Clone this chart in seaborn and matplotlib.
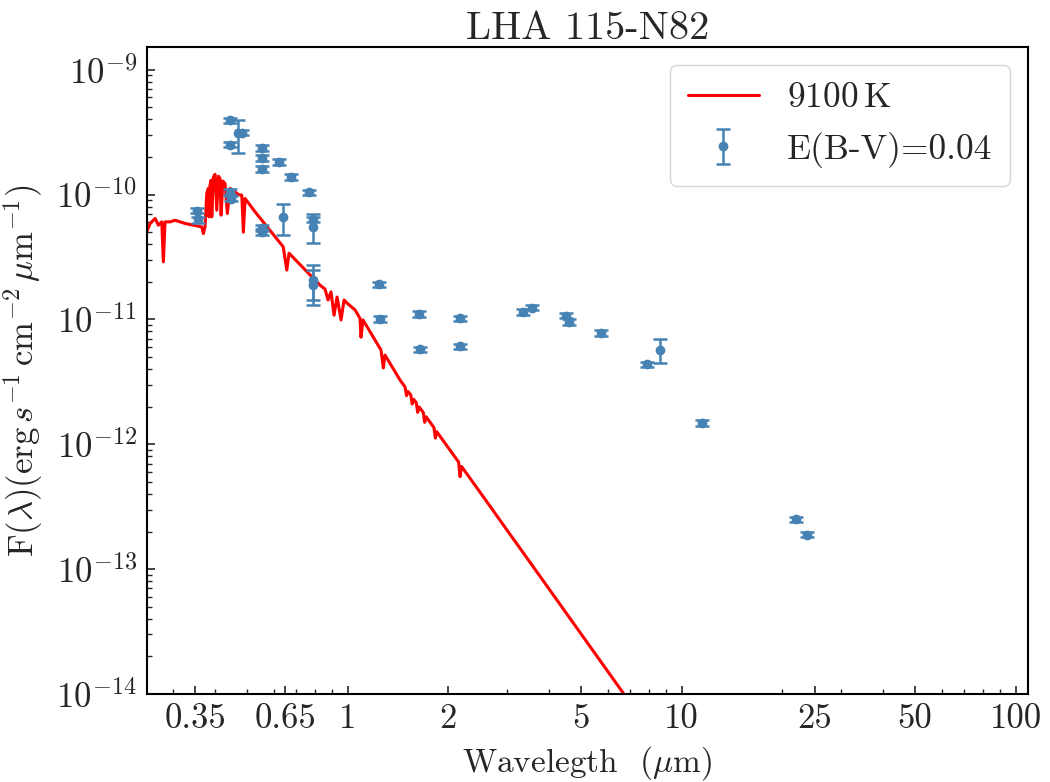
import numpy as np
import pandas as pd
import matplotlib
matplotlib.use("Agg")
import matplotlib.pyplot as plt
import seaborn as sns
from matplotlib.ticker import FixedLocator, FixedFormatter, LogLocator, NullFormatter

# ---------------- data ----------------
# model spectrum (9100 K)
model_wave = [0.250, 0.256, 0.265, 0.271, 0.2774, 0.2805, 0.2837, 0.2938, 0.304, 0.326,
              0.3655, 0.3696, 0.3738, 0.3783, 0.3825, 0.3843, 0.3870, 0.3897, 0.3916, 0.3960,
              0.4006, 0.4054, 0.4100, 0.4147, 0.4176, 0.4230, 0.4292, 0.4360, 0.4442, 0.4599,
              0.4700, 0.4817, 0.4870, 0.4927, 0.528, 0.641, 0.657, 0.667, 0.826, 0.855,
              0.873, 0.891, 0.910, 0.929, 0.955, 0.975, 0.995, 1.052, 1.088, 1.096,
              1.111, 1.258, 1.278, 1.293, 1.434,
              1.485, 1.500, 1.515, 1.545, 1.560, 1.575, 1.604, 1.620, 1.636,
              1.683, 1.700, 1.717, 1.812, 1.830, 1.848, 2.148, 2.170, 2.192,
              2.400, 2.607, 3.000, 3.280, 4.040, 5.070, 6.690, 7.000]
model_flux = [5.02e-11, 5.86e-11, 6.43e-11, 5.68e-11, 6.04e-11, 2.89e-11, 6.04e-11, 6.04e-11, 6.22e-11, 5.86e-11,
              5.50e-11, 4.87e-11, 5.50e-11, 1.02e-10, 1.12e-10, 6.62e-11, 1.20e-10, 1.30e-10, 6.62e-11, 1.38e-10,
              1.45e-10, 7.49e-11, 1.40e-10, 1.34e-10, 6.83e-11, 1.28e-10, 1.22e-10, 7.05e-11, 1.12e-10, 1.05e-10,
              1.00e-10, 9.87e-11, 4.99e-11, 9.29e-11, 7.26e-11, 3.81e-11, 2.48e-11, 3.39e-11, 1.88e-11, 1.75e-11,
              1.43e-11, 1.66e-11, 1.08e-11, 1.51e-11, 9.9e-12, 1.43e-11, 1.35e-11, 1.19e-11, 1.02e-11, 7.2e-12,
              9.9e-12, 5.68e-12, 4.08e-12, 5.18e-12, 3.27e-12,
              2.87e-12, 2.45e-12, 2.65e-12, 2.48e-12, 2.10e-12, 2.29e-12, 2.15e-12, 1.80e-12, 1.99e-12,
              1.80e-12, 1.50e-12, 1.66e-12, 1.36e-12, 1.12e-12, 1.26e-12, 7.20e-13, 5.50e-13, 6.64e-13,
              4.74e-13, 3.48e-13, 2.05e-13, 1.47e-13, 6.73e-14, 2.87e-14, 1.014e-14, 8.6e-15]

# photometry: wavelength, flux, lower / upper error
phot_wave = [0.354, 0.356, 0.444, 0.444, 0.4705, 0.4816, 0.5549, 0.5549, 0.5549, 0.6241,
             0.6766, 0.7658, 0.444, 0.4463, 0.5549, 0.5549, 0.6415, 0.785, 0.785, 0.7889,
             0.7889, 1.243, 1.249, 1.638, 1.646, 2.169, 2.169, 3.342, 3.57, 4.50,
             4.59, 5.72, 7.86, 8.61, 11.53, 21.99, 23.67]
phot_flux = [7.35e-11, 6.34e-11, 3.93e-10, 2.51e-10, 3.08e-10, 3.13e-10, 2.36e-10, 1.96e-10, 1.60e-10, 1.82e-10,
             1.38e-10, 1.04e-10, 1.05e-10, 9.29e-11, 5.41e-11, 5.02e-11, 6.55e-11, 6.31e-11, 5.50e-11, 2.06e-11,
             1.88e-11, 1.91e-11, 1.005e-11, 1.11e-11, 5.75e-12, 1.02e-11, 6.11e-12, 1.14e-11, 1.24e-11, 1.07e-11,
             9.55e-12, 7.77e-12, 4.37e-12, 5.68e-12, 1.48e-12, 2.51e-13, 1.89e-13]
phot_err_lo = [0.25e-11, 0.41e-11, 0.2e-10, 0.13e-10, 0.95e-10, 0.16e-10, 0.12e-10, 0.10e-10, 0.08e-10, 0.09e-10,
               0.07e-10, 0.05e-10, 0.05e-10, 0.46e-11, 0.27e-11, 0.25e-11, 1.83e-11, 0.32e-11, 1.44e-11, 0.63e-11,
               0.58e-11, 0.1e-11, 0.05e-11, 0.06e-11, 0.29e-12, 0.5e-12, 0.3e-12, 0.6e-12, 0.6e-12, 0.5e-12,
               0.5e-12, 0.4e-12, 0.22e-12, 1.18e-12, 0.07e-12, 0.12e-13, 0.09e-13]
phot_err_hi = [0.40e-11, 0.30e-11, 0.2e-10, 0.13e-10, 0.85e-10, 0.16e-10, 0.12e-10, 0.10e-10, 0.08e-10, 0.09e-10,
               0.07e-10, 0.05e-10, 0.05e-10, 0.46e-11, 0.27e-11, 0.25e-11, 1.81e-11, 0.32e-11, 1.42e-11, 0.66e-11,
               0.60e-11, 0.1e-11, 0.05e-11, 0.06e-11, 0.29e-12, 0.5e-12, 0.3e-12, 0.6e-12, 0.6e-12, 0.5e-12,
               0.5e-12, 0.4e-12, 0.22e-12, 1.23e-12, 0.07e-12, 0.12e-13, 0.09e-13]

xtick_vals = [0.35, 0.65, 1, 2, 5, 10, 25, 50, 100]
xtick_labels = ["0.35", "0.65", "1", "2", "5", "10", "25", "50", "100"]
ytick_vals = [1e-14, 1e-13, 1e-12, 1e-11, 1e-10, 1e-9]
ytick_labels = ["$10^{-14}$", "$10^{-13}$", "$10^{-12}$", "$10^{-11}$", "$10^{-10}$", "$10^{-9}$"]

title_text = "LHA 115-N82"
model_label = "9100$\\,$K"
phot_label = "E(B-V)=0.04"

# ---------------- style ----------------
sns.set_style("ticks")
plt.rcParams["font.family"] = ["cmr10", "DejaVu Serif"]
plt.rcParams["mathtext.fontset"] = "cm"
plt.rcParams["axes.formatter.use_mathtext"] = True
plt.rcParams["axes.unicode_minus"] = False

fig = plt.figure(figsize=(10.5, 7.82), dpi=100)
ax = fig.add_axes([0.1397, 0.1125, 0.979 - 0.1397, 0.940 - 0.1125])

model_df = pd.DataFrame({"wave": model_wave, "flux": model_flux})
sns.lineplot(data=model_df, x="wave", y="flux", ax=ax, color="red", lw=2.2,
             sort=False, estimator=None, label=model_label, zorder=2)

ax.errorbar(phot_wave, phot_flux, yerr=[phot_err_lo, phot_err_hi], fmt="o",
            color="steelblue", ms=6, elinewidth=1.8, capsize=5, capthick=1.8,
            label=phot_label, zorder=3)

ax.set_xscale("log")
ax.set_yscale("log")
ax.set_xlim(0.25, 108.9)
ax.set_ylim(1e-14, 1.52e-9)

ax.xaxis.set_major_locator(FixedLocator(xtick_vals))
ax.xaxis.set_major_formatter(FixedFormatter(xtick_labels))
ax.xaxis.set_minor_locator(LogLocator(base=10, subs=np.arange(2, 10), numticks=20))
ax.xaxis.set_minor_formatter(NullFormatter())
ax.yaxis.set_major_locator(FixedLocator(ytick_vals))
ax.yaxis.set_major_formatter(FixedFormatter(ytick_labels))
ax.yaxis.set_minor_locator(LogLocator(base=10, subs=np.arange(2, 10), numticks=20))
ax.yaxis.set_minor_formatter(NullFormatter())

ax.tick_params(axis="both", which="major", direction="in", length=6, width=1.2,
               labelsize=25, pad=7, top=False, right=False)
ax.tick_params(axis="both", which="minor", direction="in", length=3.5, width=1.0,
               top=False, right=False)
for s in ax.spines.values():
    s.set_linewidth(1.5)
    s.set_color("black")

ax.set_xlabel("Wavelegth  ($\\mu$m)", fontsize=24, labelpad=6)
ax.set_ylabel("F$(\\lambda)$(erg$\\,s^{-1}\\,$cm$^{-2}\\,\\mu$m$^{-1}$)", fontsize=25, labelpad=8)
ax.set_title(title_text, fontsize=29, pad=5)

leg = ax.legend(loc="upper right", fontsize=25.5, frameon=True, fancybox=True,
                handlelength=2.0, borderpad=0.5, labelspacing=0.5)
leg.get_frame().set_edgecolor("0.8")

fig.savefig("out.png", dpi=100)
